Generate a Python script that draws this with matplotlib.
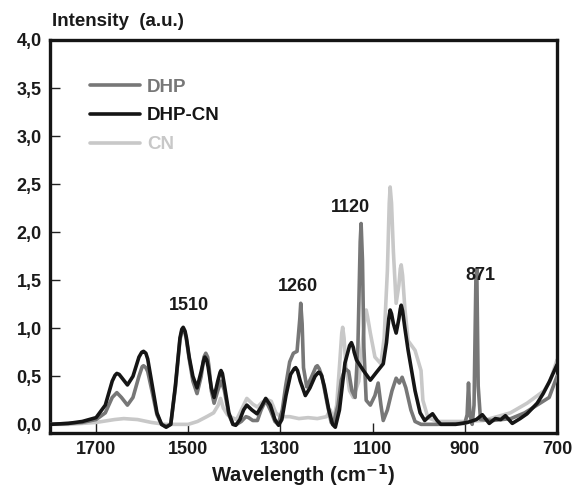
import matplotlib
matplotlib.use("Agg")
import matplotlib.pyplot as plt
import numpy as np

plt.rcParams['font.family'] = ['Liberation Sans', 'DejaVu Sans']
plt.rcParams['font.weight'] = 'bold'

# wavenumber (cm-1) / intensity (a.u.)
dhpcn_w = [1800, 1760, 1730, 1700, 1680, 1665, 1659, 1655, 1650, 1645, 1632, 1620, 1607, 1601, 1597, 1592, 1588, 1578, 1568,
           1558, 1548, 1538, 1528, 1518, 1514, 1511, 1507, 1504, 1498, 1490, 1481, 1472, 1467, 1464, 1460, 1457, 1450, 1444,
           1436, 1431, 1429, 1426, 1422, 1412, 1403, 1397, 1388, 1380, 1373, 1362, 1351, 1342, 1332, 1322, 1312,
           1304, 1297, 1288, 1278, 1270, 1267, 1263, 1257, 1246, 1236, 1225, 1218, 1215, 1211, 1205, 1195, 1187, 1181, 1172,
           1160, 1150, 1146, 1142, 1140, 1135, 1120, 1105, 1092, 1077, 1070, 1065, 1062, 1059, 1055, 1049, 1043, 1040, 1038, 1035, 1030,
           1023, 1008, 997, 987, 978, 970, 960, 952, 920, 894, 875, 862, 847, 834, 822,
           812, 797, 780, 765, 743, 730, 717, 700]
dhpcn_i = [0.0, 0.01, 0.03, 0.07, 0.2, 0.45, 0.51, 0.53, 0.52, 0.49, 0.41, 0.5, 0.7, 0.75, 0.76, 0.74, 0.68, 0.4, 0.12,
           0.0, -0.03, 0.0, 0.4, 0.9, 0.99, 1.01, 0.97, 0.9, 0.7, 0.5, 0.38, 0.55, 0.66, 0.70, 0.67, 0.6, 0.38, 0.28,
           0.45, 0.54, 0.56, 0.53, 0.42, 0.12, 0.0, -0.01, 0.05, 0.15, 0.2, 0.15, 0.11, 0.18, 0.27, 0.2, 0.05,
           -0.01, 0.05, 0.3, 0.52, 0.58, 0.59, 0.56, 0.45, 0.3, 0.38, 0.5, 0.54, 0.54, 0.51, 0.4, 0.15, 0.0, -0.03, 0.15,
           0.64, 0.82, 0.85, 0.8, 0.75, 0.67, 0.56, 0.46, 0.54, 0.63, 0.85, 1.1, 1.19, 1.15, 1.05, 0.95, 1.1, 1.2, 1.24, 1.18, 1.0,
           0.77, 0.35, 0.12, 0.04, 0.08, 0.11, 0.04, 0.0, 0.0, 0.02, 0.05, 0.10, 0.01, 0.06, 0.05,
           0.09, 0.01, 0.06, 0.11, 0.22, 0.32, 0.44, 0.62]

dhp_w = [1800, 1760, 1730, 1700, 1680, 1665, 1655, 1645, 1632, 1620, 1607, 1600, 1597, 1592, 1588, 1578, 1568,
         1558, 1548, 1538, 1528, 1518, 1514, 1511, 1507, 1504, 1498, 1490, 1481, 1472, 1466, 1462, 1458, 1455, 1450, 1444,
         1436, 1429, 1422, 1412, 1403, 1395, 1385, 1375, 1369, 1360, 1350, 1342, 1332, 1322, 1312,
         1305, 1296, 1289, 1280, 1272, 1264, 1258, 1256, 1253, 1250, 1243, 1232, 1223, 1220, 1216, 1210, 1198, 1190, 1185,
         1175, 1168, 1160, 1152, 1145, 1138, 1132, 1127, 1125, 1122, 1119, 1114, 1105, 1095, 1088, 1082, 1077,
         1068, 1058, 1049, 1042, 1036, 1028, 1017, 1008, 995, 960, 900, 895, 892, 889, 884,
         880, 876, 874, 871, 866, 840, 800, 770, 750, 717, 700]
dhp_i = [0.0, 0.01, 0.02, 0.05, 0.12, 0.28, 0.33, 0.28, 0.20, 0.28, 0.5, 0.6, 0.61, 0.59, 0.55, 0.33, 0.1,
         0.0, -0.02, 0.0, 0.38, 0.88, 0.97, 0.99, 0.95, 0.88, 0.68, 0.45, 0.32, 0.5, 0.7, 0.74, 0.7, 0.6, 0.35, 0.22,
         0.35, 0.45, 0.36, 0.1, 0.0, 0.0, 0.03, 0.08, 0.07, 0.04, 0.04, 0.15, 0.25, 0.15, 0.03,
         0.0, 0.15, 0.39, 0.65, 0.74, 0.76, 1.1, 1.26, 1.05, 0.59, 0.39, 0.5, 0.6, 0.61, 0.58, 0.5, 0.2, 0.02, 0.01,
         0.2, 0.46, 0.58, 0.55, 0.35, 0.28, 0.8, 1.9, 2.09, 1.7, 0.8, 0.25, 0.2, 0.3, 0.43, 0.2, 0.04,
         0.15, 0.35, 0.48, 0.43, 0.49, 0.38, 0.15, 0.03, 0.0, 0.0, 0.01, 0.1, 0.43, 0.1, 0.0,
         0.2, 1.5, 1.62, 0.4, 0.05, 0.04, 0.06, 0.12, 0.18, 0.28, 0.5]

cn_w = [1800, 1760, 1700, 1660, 1640, 1610, 1580, 1550, 1500, 1480, 1460, 1445, 1435, 1430, 1424,
        1415, 1405, 1395, 1385, 1373, 1360, 1350, 1340, 1330, 1320, 1310, 1300, 1280, 1260, 1240,
        1220, 1200, 1192, 1185, 1178, 1172, 1167, 1165, 1162, 1158, 1150, 1142, 1130, 1120, 1116, 1114, 1111, 1105, 1095,
        1082, 1075, 1068, 1064, 1062, 1059, 1055, 1049, 1043, 1040, 1038, 1035, 1030, 1023, 1008, 995, 991, 980, 960,
        900, 860, 830, 801, 765, 728, 715, 700]
cn_i = [0.0, 0.0, 0.02, 0.05, 0.06, 0.05, 0.02, 0.0, 0.0, 0.03, 0.08, 0.12, 0.2, 0.27, 0.17,
        0.1, 0.07, 0.05, 0.15, 0.27, 0.21, 0.18, 0.23, 0.26, 0.24, 0.12, 0.08, 0.08, 0.06, 0.07,
        0.06, 0.08, 0.15, 0.05, 0.2, 0.6, 0.95, 1.01, 0.9, 0.6, 0.35, 0.28, 0.45, 0.95, 1.15, 1.19, 1.12, 0.95, 0.70,
        0.63, 0.9, 1.6, 2.3, 2.47, 2.3, 1.8, 1.26, 1.45, 1.62, 1.66, 1.55, 1.2, 0.87, 0.77, 0.56, 0.25, 0.07, 0.03,
        0.03, 0.04, 0.08, 0.12, 0.22, 0.35, 0.45, 0.67]

peak_labels = ['1510', '1260', '1120', '871']
peak_x = [1498, 1261, 1149, 866]
peak_y = [1.24, 1.43, 2.26, 1.55]

yticks = [0.0, 0.5, 1.0, 1.5, 2.0, 2.5, 3.0, 3.5, 4.0]
ytick_labels = ['0,0', '0,5', '1,0', '1,5', '2,0', '2,5', '3,0', '3,5', '4,0']
xticks = [1700, 1500, 1300, 1100, 900, 700]

fig = plt.figure(figsize=(5.72, 4.94), dpi=100)
ax = fig.add_axes([50/572, 1-433/494, 507/572, 393/494])

kw = dict(lw=2.6, solid_joinstyle='round', solid_capstyle='round')
ax.plot(cn_w, cn_i, color='#c8c8c8', label='CN', zorder=2, **kw)
ax.plot(dhp_w, dhp_i, color='#777777', label='DHP', zorder=3, **kw)
ax.plot(dhpcn_w, dhpcn_i, color='#151515', label='DHP-CN', zorder=4, **kw)

ax.set_xlim(1800, 700)
ax.set_ylim(-0.09, 4.0)
ax.set_xticks(xticks)
ax.set_yticks(yticks)
ax.set_yticklabels(ytick_labels)
ax.tick_params(direction='in', length=7, width=1, labelsize=13, color='#222222', labelcolor='#1a1a1a')
ax.tick_params(axis='y', pad=6)
ax.tick_params(axis='x', pad=6)
for s in ax.spines.values():
    s.set_linewidth(2.4)
    s.set_color('#151515')

for t, x, y in zip(peak_labels, peak_x, peak_y):
    ax.text(x, y, t, ha='center', va='center', fontsize=13, fontweight='bold', color='#1a1a1a')

handles, labels = ax.get_legend_handles_labels()
order = [1, 2, 0]
ax.legend([handles[i] for i in order], [labels[i] for i in order], loc='upper left',
          bbox_to_anchor=(0.045, 0.945), frameon=False, handlelength=2.7, handletextpad=0.35,
          labelspacing=0.62, labelcolor='linecolor', prop={'size': 13.5, 'weight': 'bold'})

ax.set_xlabel('Wavelength (cm$^{\\mathbf{-1}}$)', fontsize=14.5, fontweight='bold', labelpad=3, color='#1a1a1a')
fig.text(52/572, 1-21/494, 'Intensity  (a.u.)', fontsize=13.5, fontweight='bold', va='center', color='#1a1a1a')

fig.savefig('out.png', dpi=100)
